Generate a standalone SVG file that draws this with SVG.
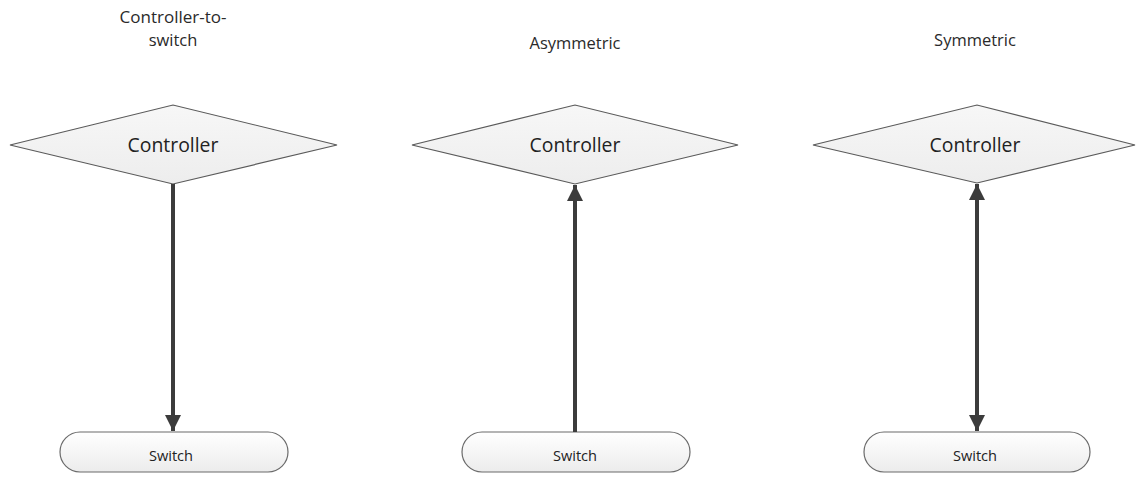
<svg xmlns="http://www.w3.org/2000/svg" width="1139" height="478" viewBox="0 0 1139 478">
<defs>
<linearGradient id="gd" x1="0" y1="0" x2="0" y2="1"><stop offset="0" stop-color="#f7f7f7"/><stop offset="1" stop-color="#ededed"/></linearGradient>
<linearGradient id="gp" x1="0" y1="0" x2="0" y2="1"><stop offset="0" stop-color="#ffffff"/><stop offset="1" stop-color="#ececec"/></linearGradient>
<marker id="ah" viewBox="0 0 10 10" refX="10" refY="5" markerWidth="4" markerHeight="4.5" orient="auto-start-reverse" markerUnits="strokeWidth"><path d="M0,0 L10,5 L0,10 Z" fill="#3c3c3c"/></marker>
</defs>
<style>
.dia{fill:url(#gd);stroke:#5a5a5a;stroke-width:1.2}
.pill{fill:url(#gp);stroke:#6a6a6a;stroke-width:1.2}
.t{font-family:"Open Sans","Liberation Sans",sans-serif;fill:#222;text-anchor:middle}
.big{font-size:19.4px}
.sm{font-size:14.6px}
.ttl{font-size:16.5px;fill:#2a2a2a}
.con{stroke:#3c3c3c;stroke-width:4;fill:none}
</style>
<g id="title1"><text class="t ttl" x="173" y="23" textLength="107" lengthAdjust="spacingAndGlyphs">Controller-to-</text><text class="t ttl" x="173" y="46">switch</text></g>
<g id="title2"><text class="t ttl" x="575" y="49" textLength="91" lengthAdjust="spacingAndGlyphs">Asymmetric</text></g>
<g id="title3"><text class="t ttl" x="975" y="46">Symmetric</text></g>
<g id="controller1"><polygon class="dia" points="10,145 173,105 337,145 173,184"/><text class="t big" x="173" y="152">Controller</text></g>
<g id="controller2"><polygon class="dia" points="412,145 575,105 738,145 575,184"/><text class="t big" x="575" y="152">Controller</text></g>
<g id="controller3"><polygon class="dia" points="813,145 977,105 1135,145 977,183"/><text class="t big" x="975" y="152">Controller</text></g>
<g id="switch1"><rect class="pill" x="60" y="432" width="228" height="40" rx="20"/><text class="t sm" x="171" y="461">Switch</text></g>
<g id="switch2"><rect class="pill" x="462" y="432" width="228" height="40" rx="20"/><text class="t sm" x="575" y="461">Switch</text></g>
<g id="switch3"><rect class="pill" x="864" y="432" width="226" height="40" rx="20"/><text class="t sm" x="975" y="461">Switch</text></g>
<g id="connectors">
<line class="con" x1="173" y1="184" x2="173" y2="431" marker-end="url(#ah)"/>
<line class="con" x1="575" y1="432" x2="575" y2="185" marker-end="url(#ah)"/>
<line class="con" x1="977" y1="184" x2="977" y2="431" marker-start="url(#ah)" marker-end="url(#ah)"/>
</g>
</svg>
